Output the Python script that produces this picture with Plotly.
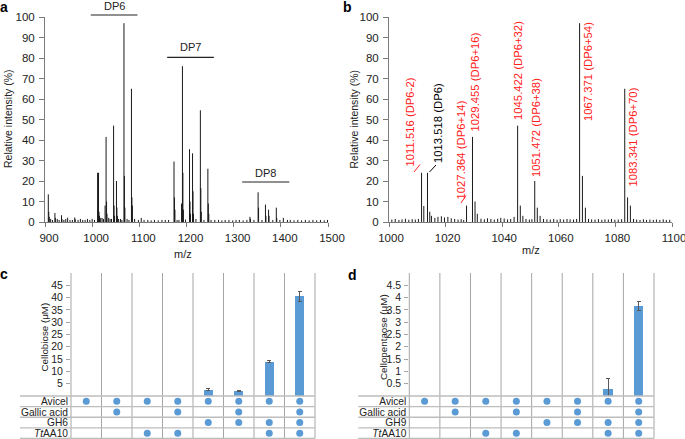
import plotly.graph_objects as go

W, H = 685, 439
def px(x): return x / W
def py(y): return 1 - y / H

FONT = "Liberation Sans, Arial, sans-serif"
BLUE = "#5B9BD5"
RED = "#FF2020"
AXC = "#7a7a7a"
GRID = "#A6A6A6"

# ---------------- Panel a : MALDI spectrum (m/z 900-1500) ----------------
a_mz = [907, 908, 909, 921, 922, 935, 936, 948, 963, 964,
        1011.5, 1012.5, 1013.5, 1014.5, 1015.5, 1027.4, 1029.5, 1030.5, 1031.5,
        1045.4, 1046.4, 1047.4, 1051.5, 1052.5, 1053.5, 1067.4, 1068.4, 1069.4,
        1083.3, 1084.3, 1085.3,
        1173.5, 1174.5, 1175.5, 1189.5, 1191.4, 1192.4, 1193.4, 1206.4, 1207.4, 1208.4,
        1212.8, 1213.8, 1214.8, 1229.4, 1230.4, 1231.4, 1245.3, 1246.3, 1247.3,
        1334.5, 1335.5, 1351.8, 1352.8, 1367.4, 1368.4, 1374.0, 1375.0, 1390.4, 1391.4, 1405.3,
        912, 916, 926, 930, 940, 944, 953, 958, 970, 975, 980, 985, 990, 995, 1000, 1005,
        1018, 1021, 1024, 1035, 1038, 1041, 1056, 1060, 1063, 1074, 1078, 1090, 1098, 1104,
        1110, 1118, 1125, 1132, 1140, 1148, 1155, 1162, 1180, 1184, 1198, 1220, 1237,
        1252, 1260, 1268, 1275, 1282, 1290, 1298, 1305, 1312, 1320, 1328, 1343, 1360,
        1383, 1398, 1414, 1420, 1428, 1436, 1444, 1452, 1460, 1468, 1476, 1484, 1492, 1499]
a_int = [13.5, 5, 2.5, 4.4, 2, 3.3, 1.5, 2.1, 2.2, 1.4,
         24, 6, 24, 5, 3, 8, 41.5, 10, 4,
         47, 8, 3, 20, 7, 3, 97, 22.5, 7,
         65, 12, 8,
         29.5, 12, 6, 9, 76, 24, 6, 35.5, 10, 4,
         33.5, 15, 4, 54.5, 16.5, 5, 26, 9, 4,
         2.5, 1.5, 14.5, 7, 8.5, 3, 6, 3, 7, 2, 2,
         1.5, 1, 1.5, 1, 1, 1.5, 1, 1, 1, 1.5, 1, 1, 1.5, 1, 1.5, 1,
         2, 2, 1.5, 2, 1.5, 1.5, 1.5, 1.5, 1, 1.5, 1, 1.5, 1, 2,
         1, 1, 0.8, 1, 0.8, 1, 1, 1, 1, 1, 1.2, 1.5, 1,
         1, 1, 1, 0.8, 1, 1, 0.8, 1, 1, 0.8, 1, 1, 1,
         1, 1, 1, 1, 0.8, 1, 0.8, 1, 0.8, 1, 0.8, 1, 0.8, 1]
a_xticks = [900, 1000, 1100, 1200, 1300, 1400, 1500]
a_groups = ["DP6", "DP7", "DP8"]
a_group_x0 = [997, 1159, 1318]
a_group_x1 = [1096, 1258, 1418]

# ---------------- Panel b : zoom on DP6 (m/z 1000-1100) ----------------
b_mz = [1011.5, 1012.3, 1013.6, 1014.4, 1015.0, 1027.4, 1029.5, 1030.4, 1031.2,
        1045.45, 1046.4, 1047.3, 1051.5, 1052.4, 1053.4, 1067.35, 1068.35, 1069.4,
        1083.3, 1084.3, 1085.3,
        1001, 1002.2, 1003.5, 1004.6, 1005.8, 1007, 1008.2, 1009.3, 1010.4,
        1016.2, 1017.3, 1018.5, 1019.6, 1020.8, 1022, 1023.2, 1024.4, 1025.5, 1026.4,
        1032.5, 1033.7, 1034.8, 1036, 1037.2, 1038.4, 1039.5, 1040.7, 1041.9, 1043, 1044.2,
        1048.4, 1049.6, 1050.5, 1054.6, 1055.8, 1057, 1058.2, 1059.4, 1060.5, 1061.7,
        1062.9, 1064, 1065.2, 1066.3, 1070.5, 1071.6, 1072.8, 1074, 1075.2, 1076.3,
        1077.5, 1078.6, 1079.8, 1081, 1082.2, 1086.4, 1087.5, 1088.7, 1089.9, 1091,
        1092.2, 1093.4, 1094.5, 1095.7, 1096.9, 1098, 1099.2]
b_int = [24, 7.8, 24, 5, 3, 8, 41.5, 10, 4,
         47, 8, 3, 20, 7, 3, 97, 22.5, 7,
         65, 12, 8,
         1.2, 1.5, 1, 1.3, 1.6, 1.1, 1.4, 1.2, 1.5,
         2, 2.5, 2.8, 2.2, 2.5, 1.8, 1.5, 1.2, 1.4, 1,
         1.6, 1.3, 1.8, 1.5, 1.2, 1.6, 2, 1.7, 1.3, 1.5, 2.5,
         1.5, 1.2, 1.4, 1.5, 1.3, 1.2, 1.5, 1.1, 1.4, 1.2,
         1.5, 1.3, 1.2, 1.5, 1.5, 1.3, 1.2, 1.4, 1.1, 1.3,
         1.2, 1.5, 1.1, 1.2, 1.4, 1.5, 1.2, 1, 1.3, 1,
         1.2, 1, 1.2, 1, 1.3, 1, 1.1]
b_xticks = [1000, 1020, 1040, 1060, 1080, 1100]
b_labels = ["1011.516 (DP6-2)", "1013.518 (DP6)", "1027.364 (DP6+14)", "1029.455 (DP6+16)",
            "1045.422 (DP6+32)", "1051.472 (DP6+38)", "1067.371 (DP6+54)", "1083.341 (DP6+70)"]
b_label_colors = [RED, "#000000", RED, RED, RED, RED, RED, RED]

# ---------------- Panels c & d : product release + condition table ----------------
cd_rows = ["Avicel", "Gallic acid", "GH6", "<i>Tt</i>AA10"]
d_rows = ["Avicel", "Gallic acid", "GH9", "<i>Tt</i>AA10"]
c_values = [0, 0, 0, 0, 2.6, 1.9, 13.9, 40.6]
c_errors = [None, None, None, None, 0.35, 0.25, 0.35, 2.0]
d_values = [0, 0, 0, 0, 0, 0, 0.27, 3.65]
d_errors = [None, None, None, None, None, None, 0.45, 0.18]
avicel = [1, 1, 1, 1, 1, 1, 1, 1]
gallic = [0, 1, 0, 1, 0, 1, 0, 1]
enzyme = [0, 0, 0, 0, 1, 1, 1, 1]
ttaa10 = [0, 0, 1, 1, 0, 0, 1, 1]
c_yticks = [5, 10, 15, 20, 25, 30, 35, 40, 45]
d_yticks = [0.5, 1, 1.5, 2, 2.5, 3, 3.5, 4, 4.5]


def sticks(mz, inten):
    xs, ys = [], []
    for m, h in zip(mz, inten):
        xs += [m, m, None]
        ys += [0, h, None]
    return xs, ys


fig = go.Figure()

xa, ya = sticks(a_mz, a_int)
fig.add_trace(go.Scatter(x=xa, y=ya, mode="lines", line=dict(color="#1a1a1a", width=1),
                         xaxis="x", yaxis="y", hoverinfo="skip", showlegend=False))
xb, yb = sticks(b_mz, b_int)
fig.add_trace(go.Scatter(x=xb, y=yb, mode="lines", line=dict(color="#1a1a1a", width=1),
                         xaxis="x2", yaxis="y2", hoverinfo="skip", showlegend=False))

table = [avicel, gallic, enzyme, ttaa10]
for vals, errs, xax, yax, tyax in [(c_values, c_errors, "x3", "y3", "y5"),
                                    (d_values, d_errors, "x4", "y4", "y6")]:
    fig.add_trace(go.Bar(x=list(range(8)), y=vals, width=0.31, marker=dict(color=BLUE, line=dict(width=0)),
                         error_y=dict(type="data", array=errs, color="#595959", thickness=1, width=2),
                         xaxis=xax, yaxis=yax, showlegend=False, hoverinfo="skip"))
    dx, dy = [], []
    for r, row in enumerate(table):
        for c, v in enumerate(row):
            if v:
                dx.append(c)
                dy.append(r)
    fig.add_trace(go.Scatter(x=dx, y=dy, mode="markers", marker=dict(color=BLUE, size=7),
                             xaxis=xax, yaxis=tyax, showlegend=False, hoverinfo="skip", cliponaxis=False))

tickfont = dict(family=FONT, size=11.5, color="#222")
smallfont = dict(family=FONT, size=10.5, color="#222")
rowfont = dict(family=FONT, size=10.2, color="#222")

spec_x = dict(showline=True, linecolor=AXC, linewidth=1, ticks="outside", ticklen=4, tickcolor=AXC,
              showgrid=False, zeroline=False, tickfont=tickfont, ticklabelstandoff=1,
              ticklabeloverflow="allow")
spec_y = dict(showline=True, linecolor=AXC, linewidth=1, ticks="outside", ticklen=5, tickcolor=AXC,
              showgrid=False, zeroline=False, tickfont=tickfont, range=[0, 100],
              tickvals=list(range(0, 101, 10)), domain=[py(222), py(17)], ticklabelstandoff=2)

tab_x = dict(range=[-0.5, 7.5], showticklabels=False, ticks="", showline=False, showgrid=False, zeroline=False)
bar_y = dict(showline=False, ticks="outside", ticklen=4, tickcolor=GRID, showgrid=False, zeroline=False,
             tickfont=smallfont, domain=[py(396), py(273)], ticklabelstandoff=1)
tab_y = dict(range=[3.5, -0.5], tickvals=[0, 1, 2, 3], ticks="", showline=False, showgrid=False,
             zeroline=False, tickfont=rowfont, domain=[py(438.5), py(396)], ticklabelstandoff=2)

fig.update_layout(
    width=W, height=H, autosize=False, margin=dict(l=0, r=0, t=0, b=0, autoexpand=False),
    paper_bgcolor="white", plot_bgcolor="white", font=dict(family=FONT, color="#222"),
    bargap=0,
    xaxis=dict(spec_x, domain=[px(45), px(328)], range=[900, 1500], tickvals=a_xticks, anchor="y",
               ticklabelshift=4),
    yaxis=dict(spec_y, anchor="x"),
    xaxis2=dict(spec_x, domain=[px(389), px(672)], range=[1000, 1100], tickvals=b_xticks, anchor="y2",
                ticklabelshift=2),
    yaxis2=dict(spec_y, anchor="x2"),
    xaxis3=dict(tab_x, domain=[px(71), px(315)], anchor="y3"),
    yaxis3=dict(bar_y, range=[0, 50], tickvals=c_yticks, anchor="x3"),
    yaxis5=dict(tab_y, ticktext=cd_rows, anchor="x3"),
    xaxis4=dict(tab_x, domain=[px(409.3), px(654)], anchor="y4"),
    yaxis4=dict(bar_y, range=[0, 5], tickvals=d_yticks, anchor="x4"),
    yaxis6=dict(tab_y, ticktext=d_rows, anchor="x4"),
)

shapes = []
annotations = []

def ann(text, x, y, size=11, color="#222", angle=0, bold=False, xanchor="center"):
    if bold:
        text = "<b>" + text + "</b>"
    annotations.append(dict(text=text, x=px(x), y=py(y), xref="paper", yref="paper", showarrow=False,
                            xanchor=xanchor, yanchor="middle", textangle=angle,
                            font=dict(family=FONT, size=size, color=color)))

def line(x0, y0, x1, y1, color, width=1):
    shapes.append(dict(type="line", xref="paper", yref="paper", x0=px(x0), y0=py(y0), x1=px(x1), y1=py(y1),
                       line=dict(color=color, width=width)))

# panel letters
ann("a", 4, 7, size=14, color="#000", bold=True)
ann("b", 347.5, 7, size=14, color="#000", bold=True)
ann("c", 3.5, 274, size=14, color="#000", bold=True)
ann("d", 352, 275, size=14, color="#000", bold=True)

# axis titles
ann("Relative intensity (%)", 7.5, 118.5, size=10.5, angle=-90)
ann("Relative intensity (%)", 353.5, 119, size=10.5, angle=-90)
ann("m/z", 183, 254, size=11)
ann("m/z", 531, 250, size=11)
ann("Cellobiose (μM)", 43.5, 337, size=9.8, angle=-90)
ann("Cellopentaose (μM)", 383, 337, size=9.8, angle=-90)

# DP group headers in panel a
group_text_y = [6, 47.5, 172.5]
group_line_y = [15, 57.3, 182]
for name, x0, x1, ty, ly in zip(a_groups, a_group_x0, a_group_x1, group_text_y, group_line_y):
    annotations.append(dict(text=name, x=(x0 + x1) / 2, y=py(ty), xref="x", yref="paper", showarrow=False,
                            xanchor="center", yanchor="middle", font=dict(family=FONT, size=11, color="#222")))
    shapes.append(dict(type="line", xref="x", yref="paper", x0=x0, x1=x1, y0=py(ly), y1=py(ly),
                       line=dict(color="#222", width=1.2)))

# peak labels in panel b
label_pos = [(409.5, 122), (438, 123), (460.5, 150), (475, 82.5), (518, 71), (535.5, 127.5), (588, 72), (633, 137.5)]
for t, col, (lx, ly) in zip(b_labels, b_label_colors, label_pos):
    ann(t, lx, ly, size=11.3, color=col, angle=-90)
line(414, 172, 420, 164.5, RED)
line(429.5, 172, 436, 165, "#000")
line(461, 203, 466, 195.5, RED)

# grid of panels c and d
for x0, x1, xl in [(71, 315, 20), (409.3, 654, 358.3)]:
    cw = (x1 - x0) / 8
    for k in range(9):
        xx = x0 + k * cw
        line(xx, 273, xx, 438.5, GRID)
    for k in range(5):
        yy = 396 + k * 10.625
        line(xl, yy, x1, yy, "#BDBDBD", 1.3)

fig.update_layout(shapes=shapes, annotations=annotations)
fig.write_html("out.html", config={"displayModeBar": False},
               post_script="document.body.style.margin='0px';document.body.style.overflow='hidden';")
